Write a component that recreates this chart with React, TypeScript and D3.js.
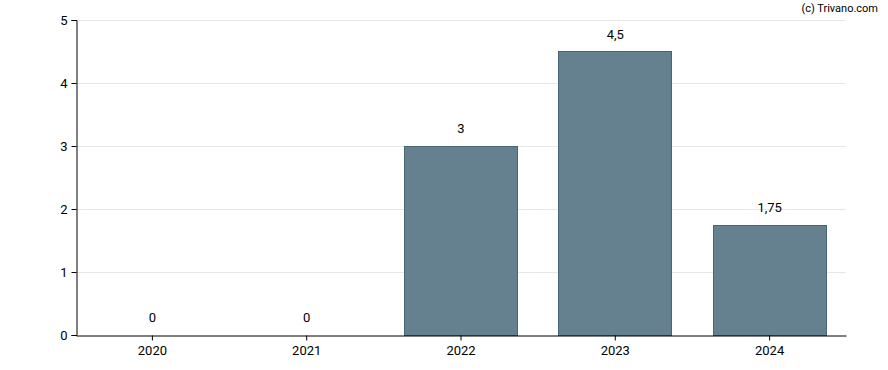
import React, {useEffect, useRef} from 'react';
import * as d3 from 'd3';

const years = ['2020', '2021', '2022', '2023', '2024'];
const dividends = [0, 0, 3, 4.5, 1.75];
const yTicks = [0, 1, 2, 3, 4, 5];

const W = 888;
const H = 370;
const margin = {top: 20, right: 42, bottom: 35, left: 76};

const fmt = (v: number) => String(v).replace('.', ',');

const App = () => {
    const svgRef = useRef<SVGSVGElement>(null);

    useEffect(() => {
        const svg = d3.select(svgRef.current);
        svg.selectAll('*').remove();

        const x = d3.scaleBand()
            .domain(years)
            .range([margin.left, W - margin.right])
            .paddingInner(0.26)
            .paddingOuter(0.125);

        const y = d3.scaleLinear()
            .domain([0, 5])
            .range([H - margin.bottom, margin.top]);

        // grid
        svg.append('g')
            .selectAll('line')
            .data(yTicks.slice(1))
            .join('line')
            .attr('x1', margin.left)
            .attr('x2', W - margin.right)
            .attr('y1', d => Math.round(y(d)) + 0.5)
            .attr('y2', d => Math.round(y(d)) + 0.5)
            .attr('stroke', '#e6e6e6');

        // bars
        svg.append('g')
            .selectAll('rect')
            .data(dividends)
            .join('rect')
            .attr('x', (d, i) => Math.round(x(years[i])!) + 0.5)
            .attr('y', d => Math.round(y(d)) + 0.5)
            .attr('width', Math.round(x.bandwidth()) - 1)
            .attr('height', d => Math.max(0, y(0) - Math.round(y(d))))
            .attr('fill', '#65818f')
            .attr('stroke', '#4a6575')
            .attr('stroke-width', 1)
            .attr('display', d => d > 0 ? null : 'none');

        // value labels
        svg.append('g')
            .selectAll('text')
            .data(dividends)
            .join('text')
            .attr('x', (d, i) => x(years[i])! + x.bandwidth() / 2)
            .attr('y', d => y(d) - 13)
            .attr('text-anchor', 'middle')
            .attr('font-family', 'Roboto, sans-serif')
            .attr('font-size', 13)
            .attr('fill', '#000')
            .text(d => fmt(d));

        const yAxis = svg.append('g')
            .attr('transform', `translate(${margin.left + 0.5},0)`)
            .call(d3.axisLeft(y).tickValues(yTicks).tickSize(5).tickFormat(d => fmt(+d)));
        yAxis.select('.domain').attr('stroke', '#000');
        yAxis.selectAll('.tick text')
            .attr('font-family', 'Roboto, sans-serif')
            .attr('font-size', 13)
            .attr('fill', '#000')
            .attr('x', -9);

        const xAxis = svg.append('g')
            .attr('transform', `translate(0,${H - margin.bottom + 0.5})`)
            .call(d3.axisBottom(x).tickSize(5).tickSizeOuter(0));
        xAxis.select('.domain').attr('stroke', '#000');
        xAxis.selectAll('.tick text')
            .attr('font-family', 'Roboto, sans-serif')
            .attr('font-size', 13)
            .attr('fill', '#000')
            .attr('y', 10);

        svg.append('text')
            .attr('x', W - 10)
            .attr('y', 12)
            .attr('text-anchor', 'end')
            .attr('font-family', 'Roboto, sans-serif')
            .attr('font-size', 11)
            .attr('fill', '#000')
            .text('(c) Trivano.com');
    }, []);

    return (
        <svg ref={svgRef} width={W} height={H}
             style={{position: 'absolute', left: 0, top: 0, background: '#fff'}}/>
    );
};

export default App;
